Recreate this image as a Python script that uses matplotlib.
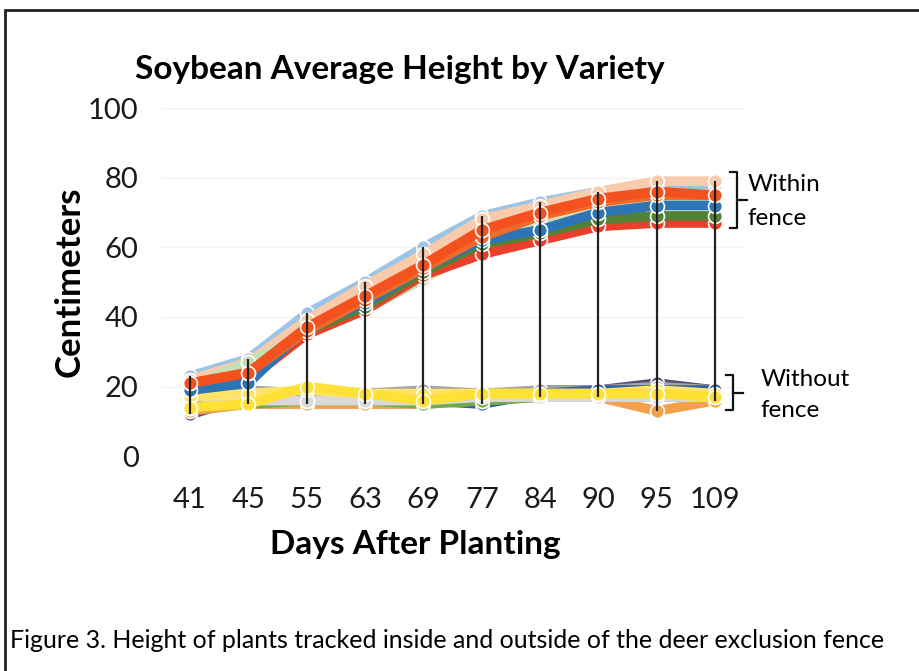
import matplotlib
matplotlib.use("Agg")
import matplotlib.pyplot as plt
import matplotlib.patches as mpatches

plt.rcParams['font.family'] = ['Lato', 'DejaVu Sans']

# days after planting (categorical axis)
days = ['41', '45', '55', '63', '69', '77', '84', '90', '95', '109']

# varieties grown inside the deer exclusion fence
within = {
    'W1': [23, 28, 41, 50, 60, 69, 73, 76, 78, 78],
    'W2': [22, 27, 39, 49, 58, 68, 72, 76, 79, 79],
    'W3': [20, 27, 35, 42, 51, 60, 66, 70, 73, 73],
    'W4': [19, 22, 35, 42, 52, 58, 62, 66, 67, 67],
    'W5': [20, 23, 36, 43, 53, 61, 64, 68, 69, 69],
    'W6': [19, 21, 37, 44, 54, 62, 65, 70, 72, 72],
    'W7': [21, 24, 36, 45, 54, 63, 69, 73, 75, 75],
    'W8': [21, 24, 37, 46, 55, 65, 70, 74, 76, 75],
}
within_colors = ['#9DC3E6', '#F8CBAD', '#C5E0B4', '#E8402A', '#548235',
                 '#2E75B6', '#F06A2A', '#F4511E']

# varieties grown outside the fence
without = {
    'O1': [12, 17, 19, 18, 18, 17, 19, 19, 21, 19],
    'O2': [16, 19, 18, 18, 19, 18, 19, 19, 20, 19],
    'O3': [15, 17, 18, 17, 16, 15, 18, 19, 19, 19],
    'O4': [13, 15, 15, 15, 15, 16, 17, 17, 13, 16],
    'O5': [14, 15, 16, 16, 15, 16, 17, 17, 17, 17],
    'O6': [14, 16, 16, 16, 16, 17, 17, 17, 17, 17],
    'O7': [17, 18, 19, 18, 18, 18, 18, 18, 19, 18],
    'O8': [14, 15, 20, 18, 16, 18, 18, 18, 18, 17],
}
without_colors = ['#5A4A7A', '#A5A5A5', '#2E5FA8', '#F4A04A', '#70AD47',
                  '#D9D9D9', '#FFE36B', '#FFE135']

fig = plt.figure(figsize=(9.19, 6.71), dpi=100)
ax = fig.add_axes([0.175, 0.320, 0.635, 0.519])

x = list(range(len(days)))

# high-low lines (Excel style)
allseries = list(within.values()) + list(without.values())
lo = [min(s[i] for s in allseries) for i in x]
hi = [max(s[i] for s in allseries) for i in x]
ax.vlines(x, lo, hi, color='#222222', lw=1.6, zorder=5)

for (name, vals), c in zip(without.items(), without_colors):
    ax.plot(x, vals, color=c, lw=7, marker='o', ms=10, mfc=c,
            mec='white', mew=1.2, zorder=3)
for (name, vals), c in zip(within.items(), within_colors):
    ax.plot(x, vals, color=c, lw=7, marker='o', ms=10, mfc=c,
            mec='white', mew=1.2, zorder=4)

ax.set_xlim(-0.5, len(days) - 0.5)
ax.set_ylim(0, 100)
ax.set_yticks([0, 20, 40, 60, 80, 100])
ax.set_xticks(x)
ax.set_xticklabels(days)
ax.tick_params(axis='both', length=0, labelsize=21, colors='#1a1a1a')
ax.tick_params(axis='y', pad=16)
ax.tick_params(axis='x', pad=22)
ax.grid(axis='y', color='#f2f2f2', lw=1)
ax.set_axisbelow(True)
for sp in ax.spines.values():
    sp.set_visible(False)

ax.set_ylabel('Centimeters', fontsize=25, fontweight='bold')
ax.yaxis.set_label_coords((86 - 161) / 583, 0.5)
ax.set_xlabel('Days After Planting', fontsize=24, fontweight='bold')
ax.xaxis.set_label_coords((415 - 161) / 583, -(530 - 456) / 348)
fig.text(400 / 919, 1 - 70 / 671, 'Soybean Average Height by Variety',
         fontsize=24, fontweight='bold', ha='center', va='center')

# bracket annotations
def bracket(y0, y1, xb):
    tr = ax.get_yaxis_transform()
    ax.plot([xb - 0.012, xb, xb, xb - 0.012], [y1, y1, y0, y0], color='#111111',
            lw=1.6, transform=tr, clip_on=False)
    ax.plot([xb, xb + 0.017], [(y0 + y1) / 2] * 2, color='#111111', lw=1.6,
            transform=tr, clip_on=False)

bracket(65.5, 81.5, 0.987)
bracket(13.2, 23.3, 0.98)
tr = ax.get_yaxis_transform()
ax.text(1.005, 78, 'Within', transform=tr, fontsize=17.5, va='center', ha='left')
ax.text(1.005, 68.4, 'fence', transform=tr, fontsize=17.5, va='center', ha='left')
ax.text(1.027, 22, 'Without', transform=tr, fontsize=17.5, va='center', ha='left')
ax.text(1.027, 13.2, 'fence', transform=tr, fontsize=17.5, va='center', ha='left')

fig.text(10 / 919, 1 - 640 / 671,
         'Figure 3. Height of plants tracked inside and outside of the deer exclusion fence',
         fontsize=18, ha='left', va='center')

# outer frame of the scanned figure
frame = mpatches.Rectangle((5 / 919, -0.2), 1.1, 1.2 - 10 / 671,
                           transform=fig.transFigure, fill=False,
                           edgecolor='#222222', lw=2, clip_on=False)
fig.add_artist(frame)

fig.savefig('out.png', dpi=100)
